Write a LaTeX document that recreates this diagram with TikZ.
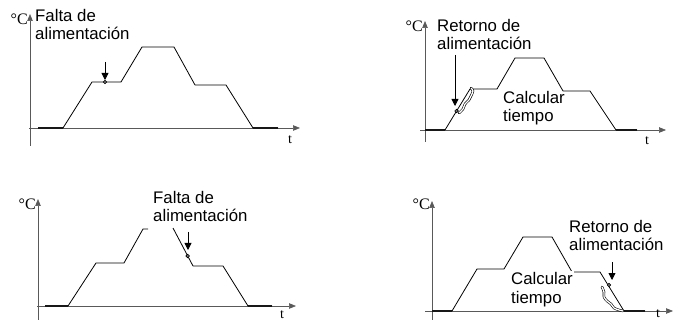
\documentclass[tikz,border=0pt]{standalone}
\usepackage{fontspec}
\setmainfont{Liberation Sans}
\newfontfamily\serifed{Liberation Serif}
\usetikzlibrary{arrows.meta}
\begin{document}
\begin{tikzpicture}[x=1pt,y=-1pt,
  axis/.style={draw=black!65,line width=0.7pt,-{Triangle[length=7pt,width=5.5pt]}},
  curve/.style={draw=black,line width=0.8pt,line join=round},
  base/.style={draw=black!85,line width=1.3pt},
  pointer/.style={draw=black,line width=0.8pt,-{Triangle[length=7pt,width=7pt]}},
  dot/.style={draw=black,fill=black!55,line width=0.6pt},
  squig/.style={draw=black,double=white,double distance=1.3pt,line width=0.6pt,line cap=round,line join=round},
  lbl/.style={font=\fontsize{16.8}{18.5}\selectfont,align=left,inner sep=0pt,anchor=base west},
  unit/.style={font=\serifed\fontsize{16}{16}\selectfont,inner sep=0pt,anchor=base east},
  tlbl/.style={font=\serifed\fontsize{14}{14}\selectfont,inner sep=0pt,anchor=base}]
\useasboundingbox (0,0) rectangle (674,320);

% ---------- Panel 1 (top left)
\draw[axis] (30,146) -- (30,14);
\draw[axis] (29,128) -- (300,128);
\draw[base] (38,128) -- (63,128);
\draw[base] (253,128) -- (278,128);
\draw[curve] (38,128) -- (63,128) -- (92,82) -- (121,82) -- (142,47) -- (174,47) -- (195,85) -- (226,85) -- (253,128) -- (278,128);
\node[unit] (c1) at (28,25) {°C};
\node[tlbl] (t1) at (290,144) {t};
\node[lbl] (l1) at (35,40) {Falta de\\alimentación};
\coordinate (a1s) at (105,62);
\coordinate (a1e) at (105,80);
\draw[pointer] (a1s) -- (a1e);
\draw[dot] (105,82) circle (1.8);

% ---------- Panel 2 (top right)
\draw[axis] (425,142) -- (425,21);
\draw[axis] (420,130) -- (666,130);
\draw[base] (425,130) -- (445,130);
\draw[base] (616,130) -- (637,130);
\draw[curve] (425,130) -- (445,130) -- (470,89) -- (497,89) -- (515,58) -- (544,58) -- (563,91) -- (590,91) -- (616,130) -- (637,130);
\node[unit] (c2) at (423,32) {°C};
\node[tlbl] (t2) at (647,145) {t};
\node[lbl] (l2) at (437,50) {Retorno de\\alimentación};
\node[lbl] (k2) at (503,122) {Calcular\\tiempo};
\coordinate (a2s) at (455,55);
\coordinate (a2e) at (455,106);
\draw[pointer] (a2s) -- (a2e);
\draw[squig] plot[smooth] coordinates {(459,113) (463,109) (465,104) (469,100) (471,96) (473,91) (471,88)};
\draw[dot] (456.6,111) circle (1.8);

% ---------- Panel 3 (bottom left)
\draw[axis] (38,322) -- (38,199);
\draw[axis] (37,306) -- (296,306);
\draw[base] (45,306) -- (68,306);
\draw[base] (248,306) -- (272,306);
\draw[curve] (45,306) -- (68,306) -- (96,263) -- (124,263) -- (143,229) -- (148,229);
\draw[curve] (173,228) -- (193,266) -- (223,266) -- (248,306) -- (272,306);
\node[unit] (c3) at (36,210) {°C};
\node[tlbl] (t3) at (282,318.5) {t};
\node[lbl] (l3) at (153,222) {Falta de\\alimentación};
\coordinate (a3s) at (188,232);
\coordinate (a3e) at (188,250);
\draw[pointer] (a3s) -- (a3e);
\draw[dot] (187.7,256) circle (1.8);

% ---------- Panel 4 (bottom right)
\draw[axis] (432,322) -- (432,201);
\draw[axis] (425,311) -- (673,311);
\draw[base] (432,311) -- (452,311);
\draw[base] (624,311) -- (645,311);
\draw[curve] (432,311) -- (452,311) -- (477,269) -- (504,269) -- (523,237) -- (552,237) -- (572,272) -- (600,272) -- (624,311) -- (645,311);
\node[unit] (c4) at (430,210) {°C};
\node[tlbl] (t4) at (658,317) {t};
\node[lbl] (l4) at (569,251) {Retorno de\\alimentación};
\node[lbl,fill=white,inner xsep=1pt,inner ysep=1pt] (k4) at (510,303) {Calcular\\tiempo};
\coordinate (a4s) at (612,262);
\coordinate (a4e) at (612,280);
\draw[pointer] (a4s) -- (a4e);
\draw[squig] plot[smooth] coordinates {(602,287) (604,292) (604,297) (607,301) (611,304) (614,308) (619,310) (623,311)};
\draw[dot] (609,285) circle (1.8);
\end{tikzpicture}
\end{document}
